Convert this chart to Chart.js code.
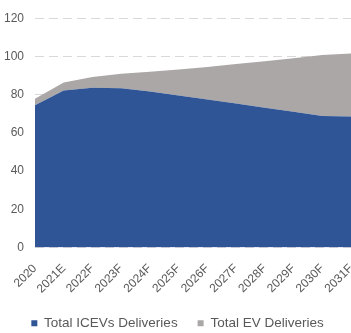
<!DOCTYPE html>
<html>
<head>
<meta charset="utf-8">
<script src="https://cdn.jsdelivr.net/npm/chart.js@4/dist/chart.umd.min.js"></script>
<style>
  html, body { margin: 0; padding: 0; background: #fff; }
  .chart-box { width: 351px; height: 333px; }
</style>
</head>
<body>
<div class="chart-box"><canvas id="myChart"></canvas></div>
<script>
// deliveries per year, stacked areas
const years = ['2020', '2021E', '2022F', '2023F', '2024F', '2025F', '2026F', '2027F', '2028F', '2029F', '2030F', '2031F'];
const iceDeliveries = [74.5, 82.2, 83.6, 83.4, 81.6, 79.6, 77.5, 75.3, 73.2, 71.0, 68.8, 68.5];
const evDeliveries = [3.3, 4.1, 5.6, 7.5, 10.4, 13.6, 17.0, 20.7, 24.3, 28.0, 31.9, 33.0];
const yTicks = [0, 20, 40, 60, 80, 100, 120];

const textColor = '#595959';
const fontName = '"Liberation Sans", Arial, sans-serif';

var ctx = document.getElementById('myChart').getContext('2d');
var chart = new Chart(ctx, {
  type: 'line',
  data: {
    labels: years,
    datasets: [{
      label: 'Total ICEVs Deliveries',
      data: iceDeliveries,
      backgroundColor: '#2F5597',
      borderColor: '#2F5597',
      borderWidth: 0,
      pointRadius: 0,
      fill: 'origin',
      stack: 'deliveries'
    }, {
      label: 'Total EV Deliveries',
      data: evDeliveries,
      backgroundColor: '#AAA7A6',
      borderColor: '#AAA7A6',
      borderWidth: 0,
      pointRadius: 0,
      fill: '-1',
      stack: 'deliveries'
    }]
  },
  options: {
    responsive: true,
    maintainAspectRatio: false,
    animation: false,
    layout: {
      // negative bottom lets the legend's own padding hang off the canvas
      padding: { top: 12, right: 0, bottom: -7, left: 4 }
    },
    plugins: {
      legend: {
        position: 'bottom',
        labels: {
          color: textColor,
          font: { family: fontName, size: 13.5 },
          boxWidth: 6,
          boxHeight: 6,
          padding: 20
        }
      },
      tooltip: { enabled: false }
    },
    scales: {
      x: {
        stacked: true,
        grid: { display: false },
        border: { display: false },
        ticks: {
          color: textColor,
          font: { family: fontName, size: 12 },
          minRotation: 45,
          maxRotation: 45,
          autoSkip: false,
          padding: 6
        },
        // no side padding: the plot runs from the y labels to the right edge
        afterFit: (scale) => {
          scale.paddingRight = 0;
          scale.paddingLeft = 0;
          scale.height = 49;
        }
      },
      y: {
        stacked: true,
        min: 0,
        max: 120,
        afterBuildTicks: (scale) => { scale.ticks = yTicks.map(v => ({ value: v })); },
        // label width + padding on the plot side only
        afterFit: (scale) => { scale.width = 31; },
        grid: {
          color: '#D9D9D9',
          lineWidth: 1,
          drawTicks: false
        },
        border: { display: false, dash: [9, 5] },
        ticks: {
          color: textColor,
          font: { family: fontName, size: 12 },
          padding: 11
        }
      }
    }
  }
});
</script>
</body>
</html>
